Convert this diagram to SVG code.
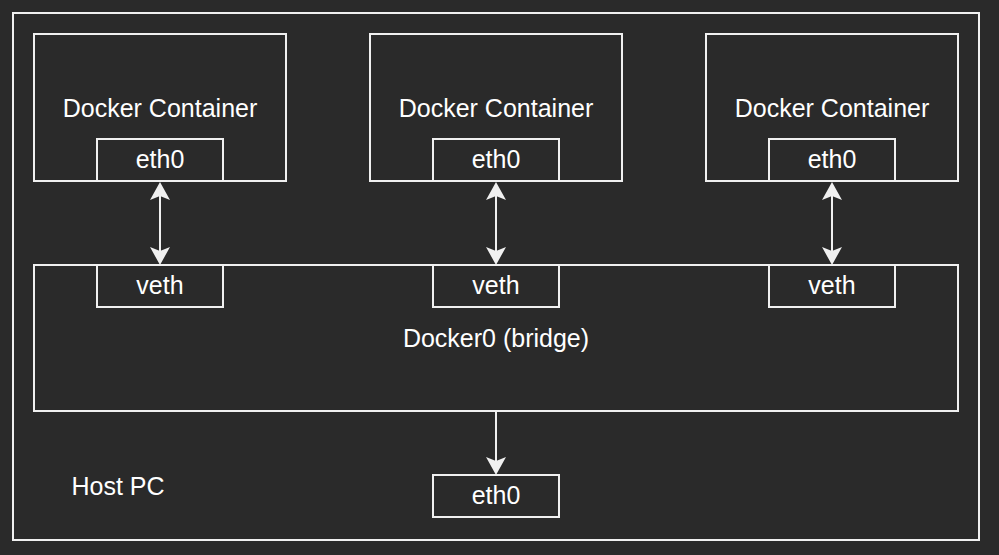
<svg xmlns="http://www.w3.org/2000/svg" width="999" height="555" viewBox="0 0 999 555">
<style>
.box{fill:none;stroke:#f0f0f0;stroke-width:2}
.t{font-family:"Liberation Sans",Arial,sans-serif;font-size:25px;fill:#ffffff;text-anchor:middle}
.c{stroke:#f0f0f0;stroke-width:2;fill:none}
</style>
<defs>
<marker id="ah" viewBox="0 0 18 20" refX="4" refY="10" markerWidth="18" markerHeight="20" markerUnits="userSpaceOnUse" orient="auto-start-reverse">
<path d="M0,0 L18,10 L0,20 L4,10 Z" fill="#f0f0f0"/>
</marker>
</defs>
<rect width="999" height="555" fill="#2a2a2a"/>
<g id="host">
<rect class="box" x="13" y="13" width="966" height="527"/>
<text class="t" x="118" y="495">Host PC</text>
</g>
<g id="container1">
<rect class="box" x="34" y="34" width="252" height="147"/>
<text class="t" x="160" y="117">Docker Container</text>
</g>
<g id="container1-eth0">
<rect class="box" x="97" y="139" width="126" height="42"/>
<text class="t" x="160" y="168">eth0</text>
</g>
<g id="container2">
<rect class="box" x="370" y="34" width="252" height="147"/>
<text class="t" x="496" y="117">Docker Container</text>
</g>
<g id="container2-eth0">
<rect class="box" x="433" y="139" width="126" height="42"/>
<text class="t" x="496" y="168">eth0</text>
</g>
<g id="container3">
<rect class="box" x="706" y="34" width="252" height="147"/>
<text class="t" x="832" y="117">Docker Container</text>
</g>
<g id="container3-eth0">
<rect class="box" x="769" y="139" width="126" height="42"/>
<text class="t" x="832" y="168">eth0</text>
</g>
<g id="bridge">
<rect class="box" x="34" y="265" width="924" height="146"/>
<text class="t" x="496" y="347">Docker0 (bridge)</text>
</g>
<g id="veth1">
<rect class="box" x="97" y="265" width="126" height="42"/>
<text class="t" x="160" y="294">veth</text>
</g>
<g id="veth2">
<rect class="box" x="433" y="265" width="126" height="42"/>
<text class="t" x="496" y="294">veth</text>
</g>
<g id="veth3">
<rect class="box" x="769" y="265" width="126" height="42"/>
<text class="t" x="832" y="294">veth</text>
</g>
<g id="host-eth0">
<rect class="box" x="433" y="475" width="126" height="42"/>
<text class="t" x="496" y="504">eth0</text>
</g>
<g id="connectors">
<line class="c" x1="160" y1="196" x2="160" y2="251" marker-start="url(#ah)" marker-end="url(#ah)"/>
<line class="c" x1="496" y1="196" x2="496" y2="251" marker-start="url(#ah)" marker-end="url(#ah)"/>
<line class="c" x1="832" y1="196" x2="832" y2="251" marker-start="url(#ah)" marker-end="url(#ah)"/>
<line class="c" x1="496" y1="411" x2="496" y2="461" marker-end="url(#ah)"/>
</g>
</svg>
